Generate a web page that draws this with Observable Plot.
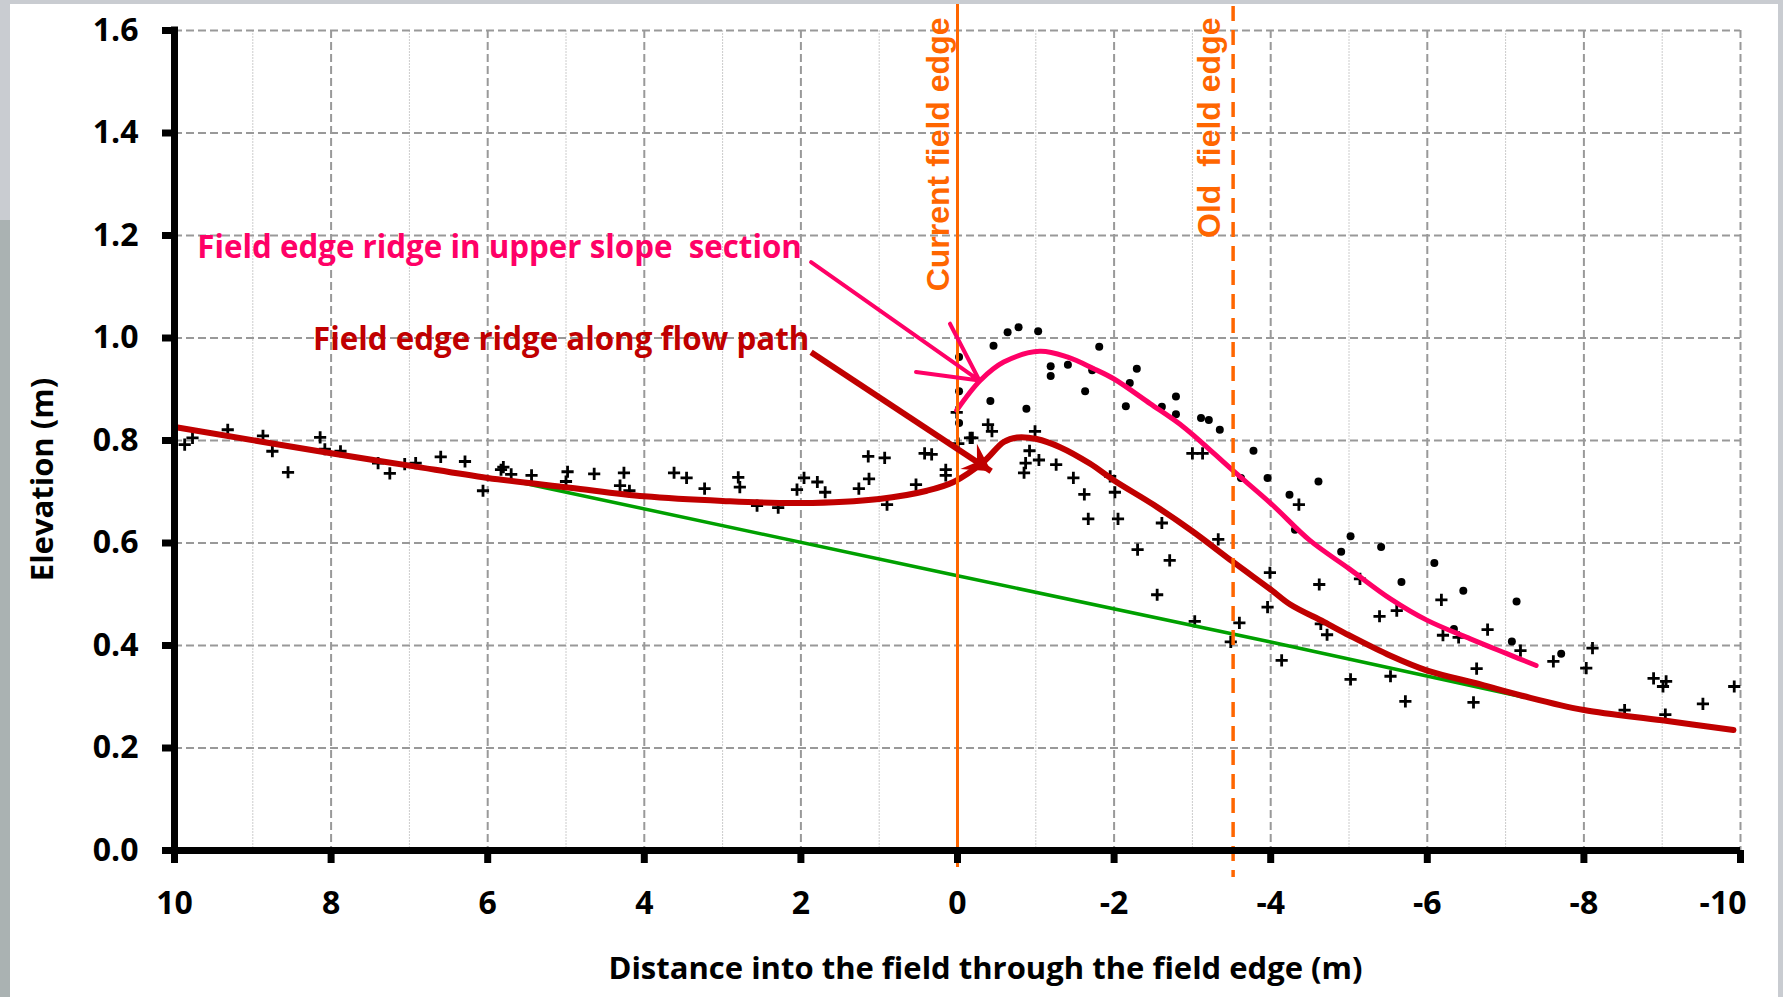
<!DOCTYPE html>
<html>
<head>
<meta charset="utf-8">
<script src="https://cdn.jsdelivr.net/npm/d3@7"></script>
<script src="https://cdn.jsdelivr.net/npm/@observablehq/plot@0.6"></script>
<style>
html, body { margin: 0; padding: 0; }
body { width: 1783px; height: 997px; background: linear-gradient(#c9ccd1 0 220px, #aab2b2 220px); position: relative; overflow: hidden; }
#chart { position: absolute; left: 10px; top: 4px; width: 1768px; height: 993px; background: #fff; box-shadow: 5px 0 0 #c9ccd1; }
#chart svg text { white-space: pre; }
</style>
</head>
<body>
<div id="chart"></div>
<script>
// ---- data ----
const xTicks = [10, 8, 6, 4, 2, 0, -2, -4, -6, -8, -10];
const xMinor = [9, 7, 5, 3, 1, -1, -3, -5, -7, -9];
const yTicks = [0, 0.2, 0.4, 0.6, 0.8, 1.0, 1.2, 1.4, 1.6];

const currentEdge = 0;
const oldEdge = -3.52;

// "+" survey points
const plusPoints = [
  [9.87,0.792],[9.77,0.805],[9.32,0.821],[8.87,0.809],[8.75,0.779],[8.55,0.738],[8.14,0.806],[8.08,0.783],
  [7.88,0.779],[7.40,0.756],[7.25,0.736],[7.06,0.754],[6.92,0.756],[6.60,0.768],[6.29,0.759],[6.06,0.702],
  [5.83,0.743],[5.80,0.748],[5.70,0.734],[5.44,0.732],[4.98,0.739],[5.00,0.720],[4.64,0.735],[4.26,0.737],
  [4.31,0.712],[4.19,0.702],[3.62,0.737],[3.46,0.727],[3.23,0.706],[2.80,0.728],[2.78,0.709],[2.56,0.673],
  [2.29,0.669],[2.05,0.704],[1.96,0.727],[1.79,0.719],[1.69,0.699],[1.26,0.706],[1.13,0.725],[1.14,0.769],
  [0.93,0.766],[0.90,0.675],[0.53,0.714],[0.42,0.775],[0.33,0.773],[0.15,0.743],[0.15,0.732],
  [0.01,0.855],[-0.01,0.794],[-0.39,0.831],[-0.44,0.818],[-0.16,0.805],[-0.19,0.805],[-0.99,0.818],
  [-0.92,0.780],[-0.87,0.756],[-0.85,0.737],[-1.04,0.762],[-1.26,0.753],[-1.48,0.727],[-1.62,0.695],
  [-1.67,0.647],[-1.95,0.730],[-2.01,0.699],[-2.05,0.647],[-2.30,0.587],[-2.61,0.639],[-2.71,0.566],
  [-2.55,0.499],[-3.00,0.775],[-3.13,0.775],[-3.03,0.447],[-3.33,0.607],[-3.60,0.444],[-3.49,0.407],
  [-3.99,0.542],[-3.96,0.475],[-4.14,0.371],[-4.36,0.675],[-4.62,0.519],[-4.64,0.442],[-4.72,0.421],
  [-5.02,0.334],[-5.14,0.530],[-5.39,0.457],[-5.61,0.468],[-5.53,0.340],[-5.72,0.291],[-6.18,0.489],
  [-6.20,0.420],[-6.40,0.416],[-6.63,0.355],[-6.59,0.289],[-6.77,0.431],[-7.19,0.390],[-7.61,0.369],
  [-8.11,0.395],[-8.03,0.356],[-8.52,0.274],[-8.89,0.336],[-9.05,0.330],[-9.01,0.320],[-9.04,0.265],
  [-9.52,0.286],[-9.92,0.320]
];

// filled dot survey points
const dotPoints = [
  [-0.02,0.963],[-0.64,1.011],[-0.78,1.021],[-1.03,1.013],[-0.46,0.985],[-1.19,0.945],[-1.19,0.926],
  [-1.41,0.948],[-1.81,0.983],[-1.72,0.937],[-1.63,0.896],[-0.02,0.896],[-0.42,0.877],[-0.88,0.862],
  [-0.02,0.834],[-2.29,0.940],[-2.20,0.912],[-2.15,0.867],[-2.61,0.866],[-2.79,0.886],[-2.79,0.851],
  [-3.11,0.844],[-3.21,0.840],[-3.35,0.821],[-3.78,0.780],[-3.62,0.727],[-3.96,0.727],[-4.24,0.694],
  [-4.61,0.720],[-4.31,0.626],[-5.02,0.613],[-4.90,0.583],[-5.41,0.592],[-5.67,0.524],[-6.09,0.561],
  [-6.46,0.507],[-6.34,0.432],[-7.14,0.486],[-7.08,0.408],[-7.71,0.384]
];

// fitted lines
const baseSlope = [[5.73,0.723],[0,0.536],[-4,0.407],[-7.21,0.300]];
const flowPath = [
  [9.98,0.826],[8.0,0.775],[7.0,0.751],[6.0,0.727],[4.95,0.708],[4.0,0.691],[3.0,0.682],[2.0,0.678],
  [1.0,0.686],[0.39,0.702],[0.05,0.719],[-0.33,0.758],[-0.59,0.797],[-0.76,0.806],[-1.01,0.803],
  [-1.31,0.787],[-1.69,0.755],[-2.0,0.722],[-2.5,0.675],[-3.0,0.623],[-3.52,0.563],[-4.01,0.508],
  [-4.25,0.480],[-4.68,0.446],[-5.0,0.420],[-5.53,0.380],[-6.0,0.351],[-6.68,0.324],[-7.21,0.302],
  [-8.0,0.274],[-9.0,0.254],[-9.91,0.235]
];
const upperSlope = [
  [0.01,0.859],[-0.29,0.917],[-0.59,0.953],[-1.05,0.974],[-1.40,0.963],[-1.74,0.940],[-2.0,0.920],
  [-2.46,0.872],[-2.89,0.826],[-3.52,0.741],[-4.01,0.676],[-4.50,0.605],[-5.0,0.550],[-5.53,0.491],
  [-6.0,0.449],[-6.55,0.413],[-7.0,0.385],[-7.39,0.361]
];

// annotations
const upperLabel = [{text: "Field edge ridge in upper slope  section", x: 9.71, y: 1.157}];
const flowLabel = [{text: "Field edge ridge along flow path", x: 8.23, y: 0.976}];
const upperArrow = [{x1: 1.87, y1: 1.148, x2: -0.28, y2: 0.917}];
const flowArrow = [{x1: 1.87, y1: 0.972, x2: -0.43, y2: 0.740}];

const PINK = "#ff0066", RED = "#c00000", GREEN = "#00a000", ORANGE = "#ff6600";
const SANS = "'Open Sans', Lato, sans-serif";
const ARIAL = "'Liberation Sans', Arial, sans-serif";

const W = 1768, H = 993, ML = 164, MR = 38, MT = 26, MB = 147;
const px = d => d[0], py = d => d[1];

// screen-space direction of the flow-path arrow, from Plot's own scales
const sx = Plot.scale({x: {domain: [10, -10], range: [ML, W - MR]}});
const sy = Plot.scale({y: {domain: [0, 1.6], range: [H - MB, MT]}});
const fa = flowArrow[0];
const flowAngle = Math.atan2(sy.apply(fa.y2) - sy.apply(fa.y1), sx.apply(fa.x2) - sx.apply(fa.x1)) * 180 / Math.PI;

// filled "stealth" arrowhead, tip at the origin, pointing along +x
const stealth = {
  draw(ctx) {
    ctx.moveTo(0, 0);
    ctx.lineTo(-27, -15);
    ctx.lineTo(-17, 0);
    ctx.lineTo(-27, 15);
    ctx.closePath();
  }
};

const chart = Plot.plot({
  width: W,
  height: H,
  marginLeft: ML,
  marginRight: MR,
  marginTop: MT,
  marginBottom: MB,
  x: {domain: [10, -10], axis: null},
  y: {domain: [0, 1.6], axis: null},
  style: {background: "transparent", overflow: "visible", fontFamily: SANS},
  marks: [
    Plot.ruleX(xMinor, {stroke: "#cccccc", strokeWidth: 1, strokeDasharray: "2,1"}),
    Plot.ruleX(xTicks.filter(d => d !== 10), {stroke: "#999", strokeWidth: 2, strokeDasharray: "8,4"}),
    Plot.ruleY(yTicks.filter(d => d !== 0), {stroke: "#999", strokeWidth: 2, strokeDasharray: "8,4"}),
    Plot.dot(plusPoints, {x: px, y: py, symbol: "plus", r: 4, stroke: "#000", strokeWidth: 2.8}),
    Plot.dot(dotPoints, {x: px, y: py, r: 4, fill: "#000"}),
    Plot.line(baseSlope, {x: px, y: py, stroke: GREEN, strokeWidth: 3.5}),
    Plot.line(flowPath, {x: px, y: py, stroke: RED, strokeWidth: 6, curve: "catmull-rom"}),
    Plot.line(upperSlope, {x: px, y: py, stroke: PINK, strokeWidth: 5, curve: "catmull-rom"}),
    Plot.ruleX([currentEdge], {stroke: ORANGE, strokeWidth: 3, insetTop: -26, insetBottom: -17}),
    Plot.ruleX([oldEdge], {stroke: ORANGE, strokeWidth: 3.5, strokeDasharray: "15,9", insetTop: -24, insetBottom: -27}),
    Plot.arrow(upperArrow, {x1: "x1", y1: "y1", x2: "x2", y2: "y2", stroke: PINK, strokeWidth: 4, headLength: 24, headAngle: 55}),
    Plot.link(flowArrow, {x1: "x1", y1: "y1", x2: "x2", y2: "y2", stroke: RED, strokeWidth: 6}),
    Plot.dot(flowArrow, {x: "x2", y: "y2", symbol: stealth, rotate: flowAngle, fill: RED, stroke: "none"}),
    Plot.text(upperLabel, {x: "x", y: "y", text: "text", textAnchor: "start", lineAnchor: "bottom", fill: PINK, fontSize: 31.3, fontWeight: "bold", fontFamily: SANS}),
    Plot.text(flowLabel, {x: "x", y: "y", text: "text", textAnchor: "start", lineAnchor: "bottom", fill: RED, fontSize: 31.3, fontWeight: "bold", fontFamily: SANS}),
    Plot.text(["Current field edge"], {x: currentEdge, frameAnchor: "top", rotate: -90, textAnchor: "end", lineAnchor: "bottom", dx: -9, dy: -13, fill: ORANGE, fontSize: 32, fontWeight: "bold", fontFamily: ARIAL}),
    Plot.text(["Old  field edge"], {x: oldEdge, frameAnchor: "top", rotate: -90, textAnchor: "end", lineAnchor: "bottom", dx: -13, dy: -13, fill: ORANGE, fontSize: 32, fontWeight: "bold", fontFamily: ARIAL}),
    // axes
    Plot.ruleY([0], {stroke: "#000", strokeWidth: 7}),
    Plot.ruleX([10], {stroke: "#000", strokeWidth: 7, insetTop: -3.5, insetBottom: -3.5}),
    Plot.axisY(yTicks, {anchor: "left", tickSize: 12, tickPadding: 24, tickFormat: d => d.toFixed(1), fontSize: 32, fontWeight: "bold", strokeWidth: 7, label: null}),
    Plot.axisX(xTicks, {anchor: "bottom", tickSize: 13, tickPadding: 28, tickFormat: d => d === -10 ? "" : String(d), fontSize: 32, fontWeight: "bold", strokeWidth: 7, label: null}),
    Plot.text(["-10"], {x: -10, frameAnchor: "bottom", textAnchor: "end", lineAnchor: "top", dx: 6, dy: 41, fontSize: 32, fontWeight: "bold", fontFamily: SANS}),
    Plot.text(["Elevation (m)"], {frameAnchor: "left", rotate: -90, textAnchor: "middle", lineAnchor: "bottom", dx: -122, dy: 39, fontSize: 31, fontWeight: "bold", fontFamily: SANS}),
    Plot.text(["Distance into the field through the field edge (m)"], {frameAnchor: "bottom", textAnchor: "middle", lineAnchor: "bottom", dx: 28, dy: 128, fontSize: 31, fontWeight: "bold", fontFamily: SANS})
  ]
});
document.getElementById("chart").append(chart);
</script>
</body>
</html>
